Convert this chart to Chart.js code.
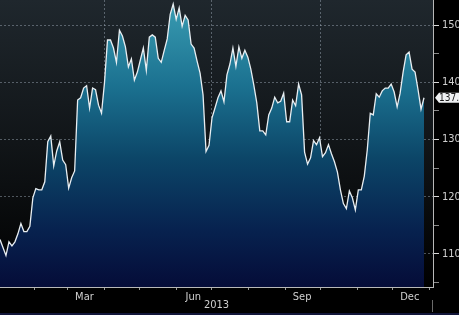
<!DOCTYPE html>
<html>
<head>
<meta charset="utf-8">
<script src="https://cdn.jsdelivr.net/npm/chart.js@4/dist/chart.umd.min.js"></script>
<style>
  html, body { margin: 0; padding: 0; background: #000; }
  #wrap { width: 459px; height: 315px; position: relative; }
</style>
</head>
<body>
<div id="wrap"><canvas id="price-chart"></canvas></div>
<script>
// daily-ish closes for 2013, one reading every ~2.5 calendar days
const closes = [
    112.5, 111.1, 109.7, 112.1, 111.4, 112.1, 113.5, 115.3, 113.9, 113.9,
    114.8, 119.8, 121.4, 121.2, 121.2, 122.6, 129.6, 130.6, 125.4, 128.0,
    129.6, 126.4, 125.6, 121.5, 123.3, 124.5, 136.9, 137.3, 139.0, 139.4,
    135.5, 139.0, 138.7, 136.0, 134.6, 140.0, 147.4, 147.4, 146.0, 143.5,
    149.1, 148.1, 146.2, 142.7, 144.1, 140.4, 141.8, 143.9, 146.0, 142.1,
    147.9, 148.3, 147.9, 144.2, 143.5, 145.6, 147.6, 151.9, 153.7, 151.0,
    153.0, 149.8, 151.7, 150.9, 146.7, 146.0, 143.7, 141.6, 137.8, 127.9,
    129.0, 133.8, 135.5, 137.3, 138.5, 136.6, 141.3, 143.2, 146.0, 142.8,
    146.2, 144.2, 145.6, 144.4, 142.3, 139.5, 136.4, 131.5, 131.5, 130.8,
    134.3, 135.5, 137.4, 136.4, 136.7, 138.1, 133.1, 133.1, 136.9, 135.9,
    139.7, 137.8, 127.8, 125.7, 126.8, 129.8, 129.1, 130.3, 127.0, 127.7,
    129.1, 127.5, 126.1, 124.3, 121.2, 118.8, 117.9, 121.0, 119.8, 117.7,
    121.2, 121.2, 123.6, 128.2, 134.6, 134.3, 138.0, 137.4, 138.5, 139.0,
    139.0, 139.7, 138.3, 135.7, 138.1, 141.8, 144.8, 145.3, 142.3, 141.8,
    138.7, 135.3, 137.3
];
const START_DAY = 2;      // day of year of first close
const DAY_STEP = 2.524;   // days between readings
const lastLabel = '137.33';

// x axis: day-of-year of each month start, labels on quarter months
const monthStarts = [31, 59, 90, 120, 151, 181, 212, 243, 273, 304, 334, 365];
const monthLabels = { 59: 'Mar', 151: 'Jun', 243: 'Sep', 334: 'Dec' };
const quarterLines = [90, 181, 273];
const yearLabel = '2013';

// y axis
const yTicks = [105, 110, 115, 120, 125, 130, 135, 140, 145, 150];

const gridColor = 'rgba(165, 178, 190, 0.45)';
const labelColor = '#cfcfcf';
const fontFamily = '"Liberation Sans Narrow", "DejaVu Sans Condensed", "Liberation Sans", sans-serif';

document.addEventListener('DOMContentLoaded', function () {
    const points = closes.map((v, i) => ({ x: START_DAY + i * DAY_STEP, y: v }));

    const backdrop = {
        id: 'backdrop',
        beforeDraw(chart) {
            const { ctx, chartArea: a, width, height } = chart;
            ctx.save();
            ctx.fillStyle = '#000';
            ctx.fillRect(0, 0, width, height);
            const g = ctx.createLinearGradient(0, a.top, 0, a.bottom);
            g.addColorStop(0, '#1f272d');
            g.addColorStop(0.5, '#111518');
            g.addColorStop(1, '#000000');
            ctx.fillStyle = g;
            ctx.fillRect(a.left, a.top, a.right - a.left, a.bottom - a.top);
            ctx.fillStyle = '#12163a';
            ctx.fillRect(0, height - 2, width, 2);
            ctx.restore();
        },
        afterDraw(chart) {
            const { ctx, chartArea: a } = chart;
            const yScale = chart.scales.y;
            const y = yScale.getPixelForValue(closes[closes.length - 1]);
            ctx.save();
            // small separator under the right axis
            ctx.strokeStyle = '#6a6a6a';
            ctx.lineWidth = 1;
            ctx.beginPath();
            ctx.moveTo(a.right - 0.5, a.bottom + 13);
            ctx.lineTo(a.right - 0.5, a.bottom + 25);
            ctx.stroke();
            // last price tag
            ctx.fillStyle = '#eef0f2';
            ctx.beginPath();
            ctx.moveTo(a.right + 2, y);
            ctx.lineTo(a.right + 6, y - 5);
            ctx.lineTo(chart.width + 2, y - 5);
            ctx.lineTo(chart.width + 2, y + 5);
            ctx.lineTo(a.right + 6, y + 5);
            ctx.closePath();
            ctx.fill();
            ctx.fillStyle = '#1a1a1a';
            ctx.font = '10px ' + fontFamily;
            ctx.textBaseline = 'middle';
            ctx.fillText(lastLabel, a.right + 6, y + 0.5);
            ctx.restore();
        }
    };

    new Chart(document.getElementById('price-chart'), {
        type: 'line',
        data: {
            datasets: [{
                data: points,
                borderColor: '#e8eef2',
                borderWidth: 1.3,
                pointRadius: 0,
                tension: 0,
                fill: 'start',
                backgroundColor: function (context) {
                    const { ctx, chartArea } = context.chart;
                    if (!chartArea) return 'rgba(20, 90, 120, 1)';
                    const g = ctx.createLinearGradient(0, chartArea.top, 0, chartArea.bottom);
                    g.addColorStop(0, '#3a9db3');
                    g.addColorStop(0.3, '#1b7190');
                    g.addColorStop(0.55, '#0c4668');
                    g.addColorStop(0.8, '#07224f');
                    g.addColorStop(1, '#050c38');
                    return g;
                }
            }]
        },
        options: {
            responsive: true,
            maintainAspectRatio: false,
            animation: false,
            layout: { padding: 0 },
            plugins: {
                legend: { display: false },
                tooltip: { enabled: false }
            },
            scales: {
                x: {
                    type: 'linear',
                    min: 2,
                    max: 368,
                    z: 1,
                    afterBuildTicks: s => { s.ticks = monthStarts.map(v => ({ value: v })); },
                    afterFit: s => { s.height = 28; s.paddingLeft = 0; s.paddingRight = 0; },
                    grid: {
                        color: c => (c.tick && quarterLines.includes(c.tick.value)) ? gridColor : 'transparent',
                        tickColor: '#9a9a9a',
                        tickLength: 3
                    },
                    border: { color: '#b8b8b8', dash: [2, 2] },
                    ticks: {
                        autoSkip: false,
                        maxRotation: 0,
                        labelOffset: 17,
                        padding: 1,
                        color: labelColor,
                        font: { size: 11, family: fontFamily },
                        callback: v => monthLabels[v] || ''
                    },
                    title: {
                        display: true,
                        text: yearLabel,
                        color: labelColor,
                        font: { size: 11, family: fontFamily },
                        padding: { top: 0, bottom: 3 }
                    }
                },
                y: {
                    position: 'right',
                    min: 104.2,
                    max: 154.4,
                    z: 1,
                    afterBuildTicks: s => { s.ticks = yTicks.map(v => ({ value: v })); },
                    afterFit: s => { s.width = 26; s.paddingTop = 0; s.paddingBottom = 0; },
                    grid: {
                        color: c => (c.tick && c.tick.value % 10 === 0) ? gridColor : 'transparent',
                        tickColor: c => (c.tick && c.tick.value % 10 === 0) ? '#d8d8d8' : '#8a8a8a',
                        tickLength: 6
                    },
                    border: { color: '#b8b8b8', dash: [2, 2] },
                    ticks: {
                        padding: 3,
                        color: labelColor,
                        font: { size: 11, family: fontFamily },
                        callback: v => (v % 10 === 0 ? String(v) : '')
                    }
                }
            }
        },
        plugins: [backdrop]
    });
});
</script>
</body>
</html>
